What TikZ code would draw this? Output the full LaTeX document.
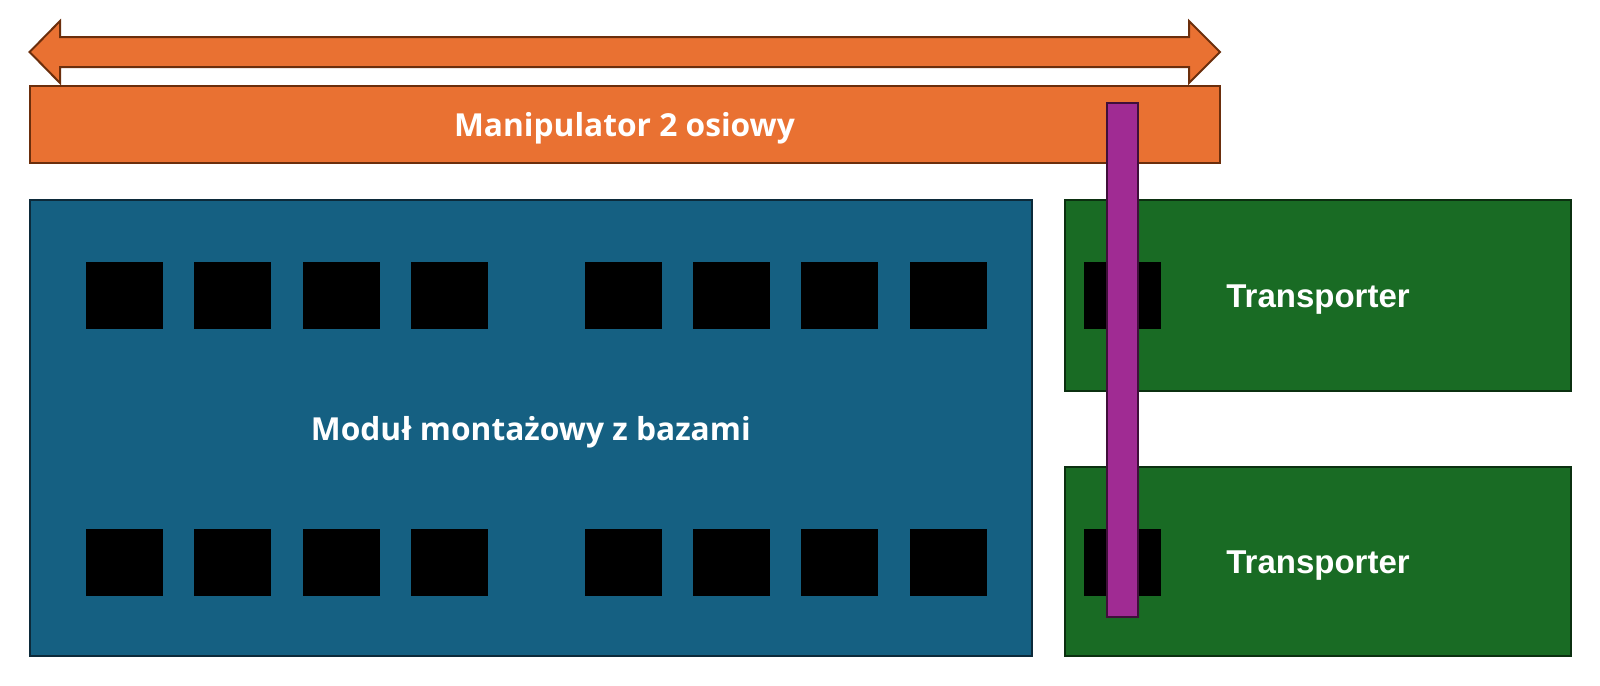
\documentclass[tikz,border=0pt]{standalone}
\usepackage{fontspec}
\setmainfont{Open Sans}
\newfontfamily\arialbold{Liberation Sans}
\definecolor{orfill}{HTML}{E97132}
\definecolor{ordraw}{HTML}{6B2E0C}
\definecolor{blfill}{HTML}{156082}
\definecolor{bldraw}{HTML}{0C2A3A}
\definecolor{grfill}{HTML}{196B24}
\definecolor{grdraw}{HTML}{0B3010}
\definecolor{pufill}{HTML}{A02B93}
\definecolor{pudraw}{HTML}{3F0F3A}
\begin{document}
\begin{tikzpicture}[x=0.5pt,y=-0.5pt,
  box/.style={draw, line width=1pt, inner sep=0pt, outer sep=0pt, rectangle},
  orbox/.style={box, fill=orfill, draw=ordraw},
  blbox/.style={box, fill=blfill, draw=bldraw},
  grbox/.style={box, fill=grfill, draw=grdraw},
  pubox/.style={box, fill=pufill, draw=pudraw},
  base/.style={fill=black, inner sep=0pt, outer sep=0pt, minimum width=38.5pt, minimum height=33.5pt},
  lbl/.style={text=white, font=\bfseries\fontsize{15.85}{18}\selectfont},
  tlbl/.style={text=white, font=\arialbold\bfseries\fontsize{16.5}{18}\selectfont}
]
\useasboundingbox (0,0) rectangle (1600,685);
% double arrow
\draw[fill=orfill, draw=ordraw, line width=1pt, line join=miter]
  (29.6,52) -- (60,21) -- (60,37) -- (1189,37) -- (1189,21) -- (1220,52)
  -- (1189,83) -- (1189,67) -- (60,67) -- (60,83) -- cycle;
% manipulator bar
\node[orbox, minimum width=595pt, minimum height=38.5pt] (manip) at (624.5,124.5) {};
\node[lbl] (maniplbl) at ([yshift=-2pt]manip.center) {Manipulator 2 osiowy};
% assembly module
\node[blbox, minimum width=501pt, minimum height=228pt] (modul) at (530.8,428) {};
\node[lbl] (modullbl) at ([yshift=-2pt]modul.center) {Moduł montażowy z bazami};
% bases
\foreach \i/\x in {1/124.5,2/232.5,3/341,4/449.5,5/623,6/731,7/839.5,8/948.5}{
  \node[base] (top\i) at (\x,295.5) {};
  \node[base] (bot\i) at (\x,562.5) {};
}
% transporters
\node[grbox, minimum width=253pt, minimum height=95.5pt] (tr1) at (1318,295.5) {};
\node[grbox, minimum width=253pt, minimum height=94.5pt] (tr2) at (1318,561.5) {};
\node[base] (trb1) at (1122,295.5) {};
\node[base] (trb2) at (1122,562.5) {};
\node[tlbl] (tr1lbl) at ([yshift=-2pt]tr1.center) {Transporter};
\node[tlbl] (tr2lbl) at ([yshift=-2pt]tr2.center) {Transporter};
% purple gripper
\node[pubox, minimum width=15.5pt, minimum height=257pt] (grip) at (1122,359.5) {};
\end{tikzpicture}
\end{document}
